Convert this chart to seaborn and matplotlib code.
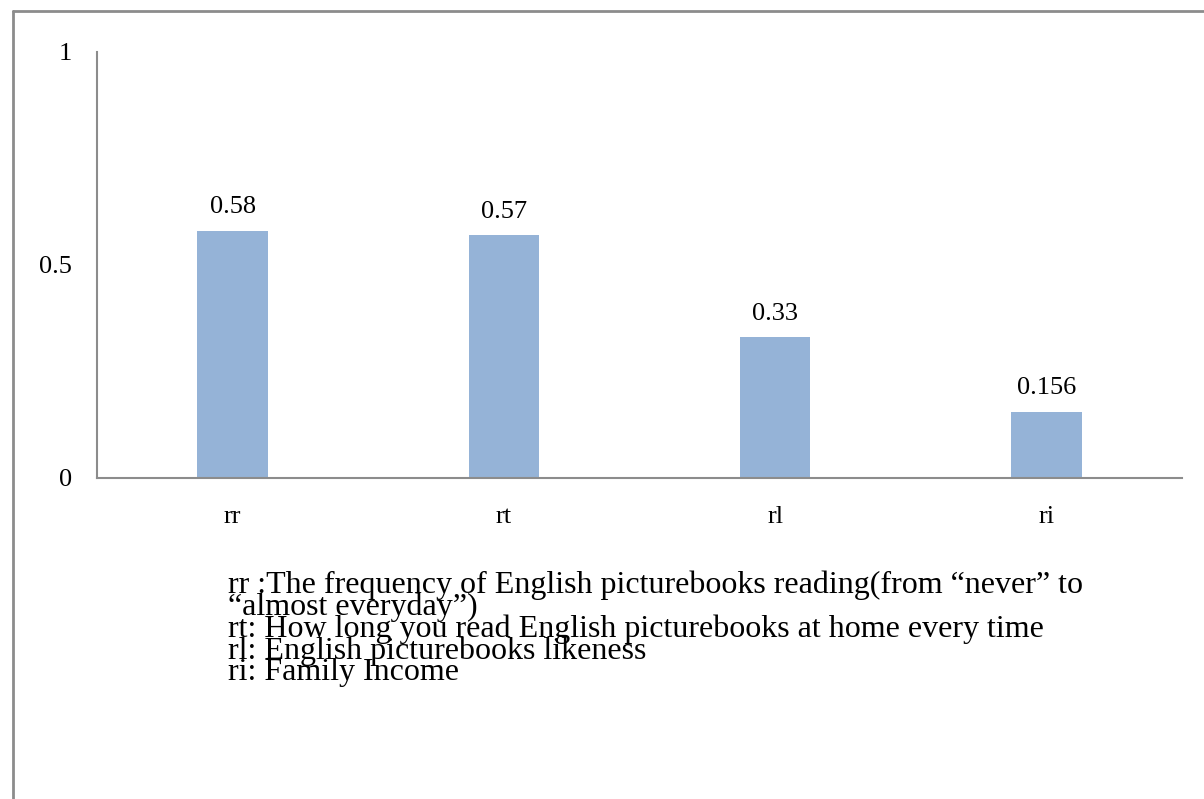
import matplotlib
matplotlib.use("Agg")
import matplotlib.pyplot as plt
import seaborn as sns
import pandas as pd

categories = ["rr", "rt", "rl", "ri"]
values = [0.58, 0.57, 0.33, 0.156]
value_labels = ["0.58", "0.57", "0.33", "0.156"]
y_ticks = [0, 0.5, 1]
y_tick_labels = ["0", "0.5", "1"]
note_lines = [
    "rr :The frequency of English picturebooks reading(from \u201cnever\u201d to",
    "\u201calmost everyday\u201d)",
    "rt: How long you read English picturebooks at home every time",
    "rl: English picturebooks likeness",
    "ri: Family Income",
]

sns.set_theme(style="white")
plt.rcParams["font.family"] = ["Liberation Serif", "DejaVu Serif"]

df = pd.DataFrame({"cat": categories, "val": values})

fig = plt.figure(figsize=(12.04, 7.99), dpi=100)
W, H = 1204, 799
ax = fig.add_axes([97 / W, 1 - 478 / H, (1182 - 97) / W, (478 - 52) / H])

sns.barplot(data=df, x="cat", y="val", color="#95B3D7", width=0.26, ax=ax,
            saturation=1, edgecolor="none")

ax.set_ylim(0, 1)
ax.set_xlim(-0.5, 3.5)
ax.set_yticks(y_ticks)
ax.set_yticklabels(y_tick_labels)
ax.set_xlabel("")
ax.set_ylabel("")
ax.tick_params(axis="both", length=0, labelsize=19, colors="black")
ax.tick_params(axis="y", pad=18)
ax.tick_params(axis="x", pad=20)
for s in ["top", "right"]:
    ax.spines[s].set_visible(False)
for s in ["left", "bottom"]:
    ax.spines[s].set_color("#8c8c8c")
    ax.spines[s].set_linewidth(1.5)

for i, (v, lab) in enumerate(zip(values, value_labels)):
    ax.annotate(lab, (i, v), xytext=(0, 9), textcoords="offset points",
                ha="center", va="bottom", fontsize=19, color="black")

fig.text(228 / W, 1 - 570 / H, "\n".join(note_lines), ha="left", va="top",
         fontsize=23, linespacing=0.67, color="black")

# outer frame
fig.add_artist(plt.Line2D([13 / W, 13 / W], [0, 1 - 11 / H], transform=fig.transFigure,
                          color="#8c8c8c", lw=2))
fig.add_artist(plt.Line2D([13 / W, 1], [1 - 11 / H, 1 - 11 / H], transform=fig.transFigure,
                          color="#8c8c8c", lw=2))

fig.savefig("out.png", dpi=100)
